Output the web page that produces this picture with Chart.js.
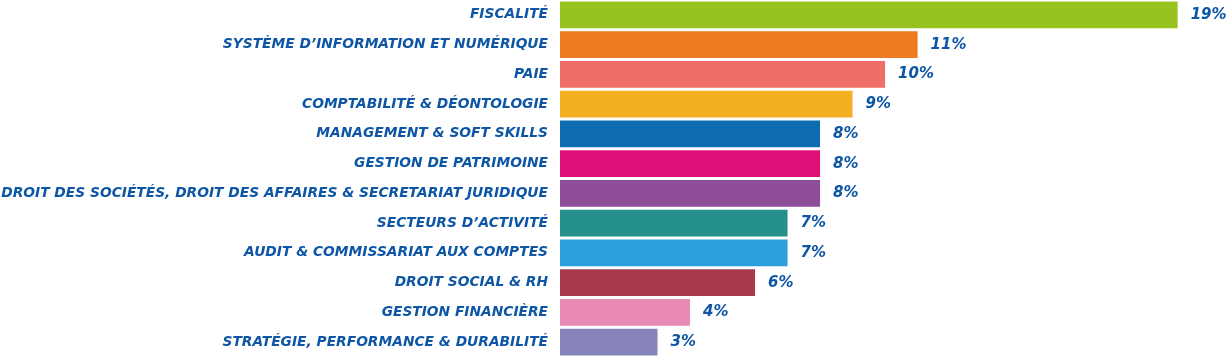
<!DOCTYPE html>
<html>
<head>
<meta charset="utf-8">
<script src="https://cdn.jsdelivr.net/npm/chart.js@4/dist/chart.umd.min.js"></script>
<style>
html,body{margin:0;padding:0;background:#fff;}
#wrap{width:1229px;height:357px;position:relative;}
</style>
</head>
<body>
<div id="wrap"><canvas id="c"></canvas></div>
<script>
const categories = [
  "FISCALITÉ",
  "SYSTÈME D’INFORMATION ET NUMÉRIQUE",
  "PAIE",
  "COMPTABILITÉ & DÉONTOLOGIE",
  "MANAGEMENT & SOFT SKILLS",
  "GESTION DE PATRIMOINE",
  "DROIT DES SOCIÉTÉS, DROIT DES AFFAIRES & SECRETARIAT JURIDIQUE",
  "SECTEURS D’ACTIVITÉ",
  "AUDIT & COMMISSARIAT AUX COMPTES",
  "DROIT SOCIAL & RH",
  "GESTION FINANCIÈRE",
  "STRATÉGIE, PERFORMANCE & DURABILITÉ"
];
const values = [19, 11, 10, 9, 8, 8, 8, 7, 7, 6, 4, 3];
const barColors = ["#98C21F","#EE7A22","#ED6E66","#F5AF22","#0E6BB0","#E0107A","#8E4D98","#26918C","#2C9FDD","#A8394B","#E98AB5","#8784BB"];
const textColor = "#0D56A6";
const fontFamily = "'DejaVu Sans'";

// fit label font so the longest label spans the space left of the bars
const mctx = document.createElement("canvas").getContext("2d");
mctx.font = "italic bold 100px " + fontFamily;
const longest = Math.max(...categories.map(c => mctx.measureText(c).width));
const labelSize = Math.floor(548 / longest * 100 * 10) / 10;

const labelFont = {family: fontFamily, weight: "bold", style: "italic", size: labelSize};
const valueFont = "italic bold 15px " + fontFamily;

const valueLabels = {
  id: "valueLabels",
  afterDatasetsDraw(chart) {
    const ctx = chart.ctx;
    const meta = chart.getDatasetMeta(0);
    ctx.save();
    ctx.font = valueFont;
    ctx.fillStyle = textColor;
    ctx.textAlign = "left";
    ctx.textBaseline = "middle";
    meta.data.forEach((bar, i) => {
      ctx.fillText(values[i] + "%", bar.x + 13, bar.y);
    });
    ctx.restore();
  }
};

new Chart(document.getElementById("c"), {
  type: "bar",
  data: {
    labels: categories,
    datasets: [{
      data: values,
      backgroundColor: barColors,
      borderWidth: 0,
      barPercentage: 0.9,
      categoryPercentage: 1.0
    }]
  },
  options: {
    indexAxis: "y",
    responsive: true,
    maintainAspectRatio: false,
    animation: false,
    layout: {padding: 0},
    plugins: {legend: {display: false}, tooltip: {enabled: false}},
    scales: {
      x: {display: false, min: 0, max: 20.58},
      y: {
        grid: {display: false, drawTicks: false},
        border: {display: false},
        ticks: {color: textColor, font: labelFont, padding: 12, autoSkip: false},
        afterFit(scale) {
          scale.width = 560;
          scale.paddingTop = 0;
          scale.paddingBottom = 0;
        }
      }
    }
  },
  plugins: [valueLabels]
});
</script>
</body>
</html>
